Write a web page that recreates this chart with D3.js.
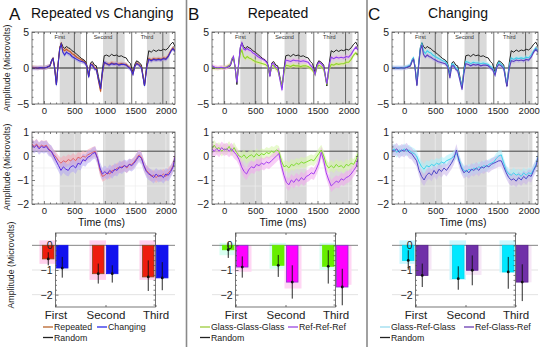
<!DOCTYPE html>
<html><head><meta charset="utf-8">
<script src="https://cdn.jsdelivr.net/npm/d3@7"></script>
<style>
body{margin:0;background:#fff}
svg{display:block;font-family:"Liberation Sans",Arial,sans-serif}
</style>
</head><body>
<svg id="c" width="550" height="347"></svg>
<script>
// ---------------- DATA ----------------
const panelLetters = ["A", "B", "C"];
const panelTitles = ["Repeated vs Changing", "Repeated", "Changing"];
const categories = ["First", "Second", "Third"];
const windowLabels = ["First", "Second", "Third"];
const analysisWindowsMs = [[260, 608], [970, 1325], [1690, 2060]];
const stimulusLinesMs = [0, 500, 700, 1200, 1440, 1950];
const timeTicks = [0, 500, 1000, 1500, 2000];
const topYTicks = [-5, 0, 5];
const midYTicks = [-2, -1, 0, 1];
const barYTicks = [-2, -1, 0];
const midGridValues = [-0.5, -1.25];
const midRandomLevel = 0.2;

// ERP waveforms (microvolts) at these times (ms)
const tTop = [-195,-150,-100,-50,0,50,100,125,150,175,205,235,260,285,310,340,370,400,430,460,500,540,580,620,660,690,710,735,765,795,830,860,895,930,960,990,1030,1070,1110,1150,1190,1230,1270,1310,1350,1385,1420,1460,1490,1520,1560,1600,1650,1690,1720,1760,1800,1840,1880,1920,1960,2000,2040,2080,2115,2150];
const randomTop = [0.0,0.05,-0.05,0.05,0.0,0.1,0.3,1.0,1.4,0.2,-2.3,0.8,2.8,3.5,3.0,2.7,3.0,2.8,2.7,2.4,2.2,1.9,1.6,1.3,1.1,0.8,0.2,-1.1,0.7,0.9,0.4,0.3,-1.2,-2.7,-0.2,1.7,1.8,1.6,1.9,1.7,1.8,1.6,1.7,1.5,1.4,0.9,0.6,-0.65,0.5,1.0,0.8,0.4,-2.5,0.8,2.4,2.2,2.5,2.3,2.5,2.4,2.6,2.5,2.8,3.3,3.6,3.0];
const changingTop = [0.0,0.0,0.0,0.05,0.0,0.1,0.3,1.0,1.3,0.0,-2.4,0.6,2.7,3.3,2.2,1.8,2.2,2.0,1.9,1.6,1.4,1.2,1.0,0.9,0.8,0.5,0.0,-1.3,0.5,0.4,-0.1,-0.2,-1.6,-2.9,-0.6,0.8,0.6,0.4,0.6,0.5,0.6,0.4,0.5,0.5,0.4,0.1,-0.1,-0.9,0.2,0.6,0.4,0.0,-2.5,0.2,1.2,1.0,1.2,1.1,1.2,1.1,1.3,1.2,1.6,2.3,2.7,2.3];
const repeatedTop = [0.1,0.05,0.0,0.05,0.0,0.1,0.3,0.9,1.3,0.1,-2.3,0.7,2.8,3.4,2.6,2.4,2.6,2.4,2.3,2.0,1.8,1.5,1.3,1.1,0.9,0.6,0.0,-1.2,0.5,0.5,0.0,-0.1,-1.8,-3.3,-0.8,0.7,0.6,0.5,0.7,0.6,0.6,0.5,0.6,0.5,0.5,0.2,0.0,-0.8,0.2,0.7,0.5,0.1,-2.4,0.3,1.3,1.1,1.3,1.2,1.3,1.2,1.4,1.3,1.7,2.4,2.8,2.4];
const refRefRefTop = [0.3,0.1,0.0,0.1,0.0,0.1,0.4,1.2,1.6,0.2,-2.0,0.8,2.9,3.5,2.7,2.5,2.7,2.5,2.4,2.1,1.9,1.6,1.4,1.2,1.0,0.7,0.1,-1.2,0.6,0.6,0.1,0.0,-1.6,-3.1,-0.4,1.1,1.0,0.9,1.1,1.0,1.0,0.9,1.0,0.9,0.8,0.4,0.1,-0.9,0.3,0.8,0.6,0.1,-2.2,0.5,1.5,1.3,1.5,1.4,1.5,1.4,1.6,1.5,1.9,2.5,2.9,2.5];
const glassGlassGlassTop = [0.0,0.0,-0.05,0.05,0.0,0.2,0.5,1.3,1.5,0.1,-1.8,0.5,2.0,2.5,1.6,1.3,1.6,1.4,1.3,1.1,0.9,0.8,0.7,0.6,0.5,0.3,-0.1,-1.1,0.4,0.3,-0.1,-0.3,-1.4,-2.6,-0.8,0.4,0.3,0.2,0.4,0.3,0.3,0.2,0.3,0.3,0.2,0.0,-0.3,-0.9,0.0,0.4,0.2,-0.2,-2.3,-0.1,0.5,0.4,0.6,0.5,0.6,0.6,0.8,0.8,1.2,1.8,2.1,1.8];
const refGlassRefTop = [0.0,0.0,0.0,0.0,0.0,0.1,0.3,0.9,1.2,0.0,-2.5,0.4,2.5,3.2,1.9,1.5,1.8,1.6,1.5,1.3,1.1,0.9,0.8,0.7,0.6,0.3,-0.2,-1.4,0.3,0.3,-0.2,-0.4,-1.7,-3.0,-0.8,0.6,0.5,0.3,0.5,0.4,0.5,0.3,0.4,0.4,0.3,0.0,-0.2,-1.0,0.1,0.5,0.3,-0.1,-2.6,0.0,1.0,0.9,1.1,1.0,1.1,1.0,1.2,1.1,1.5,2.2,2.6,2.2];
const glassRefGlassTop = [0.1,0.0,0.05,0.0,0.05,0.2,0.4,1.1,1.4,0.2,-2.2,0.7,2.8,3.4,2.4,2.0,2.4,2.2,2.1,1.8,1.6,1.4,1.2,1.0,0.9,0.6,0.1,-1.1,0.6,0.5,0.0,-0.1,-1.4,-2.7,-0.4,0.9,0.8,0.6,0.8,0.7,0.7,0.6,0.7,0.6,0.5,0.2,0.0,-0.8,0.3,0.8,0.5,0.1,-2.3,0.4,1.4,1.2,1.4,1.3,1.4,1.3,1.5,1.4,1.8,2.4,2.8,2.4];

// Difference waves (condition minus random)
const tMid = [-195,-160,-120,-80,-40,0,40,80,120,160,200,240,280,320,360,400,440,480,520,560,600,640,680,720,760,800,840,880,920,960,1000,1040,1080,1120,1160,1200,1240,1280,1320,1360,1400,1440,1480,1520,1560,1600,1640,1680,1720,1760,1800,1840,1880,1920,1960,2000,2040,2080,2120,2150];
const changingDiff = [0.45,0.35,0.45,0.3,0.4,0.35,0.4,0.25,0.2,0.0,-0.2,-0.4,-0.6,-0.45,-0.55,-0.6,-0.45,-0.4,-0.5,-0.3,-0.35,-0.15,-0.2,-0.05,0.0,0.1,0.15,-0.1,-0.5,-0.75,-0.65,-0.75,-0.6,-0.7,-0.55,-0.6,-0.45,-0.5,-0.4,-0.45,-0.35,-0.4,-0.3,-0.15,0.0,-0.1,-0.4,-0.65,-0.75,-0.8,-0.9,-0.75,-0.85,-0.8,-0.9,-0.75,-0.8,-0.65,-0.45,-0.05];
const repeatedDiff = [0.5,0.4,0.5,0.35,0.45,0.4,0.45,0.3,0.2,0.05,-0.05,-0.2,-0.3,-0.2,-0.25,-0.15,-0.2,-0.1,-0.2,-0.05,-0.1,0.0,-0.05,0.05,0.1,0.15,0.2,-0.1,-0.6,-0.85,-0.8,-0.7,-0.75,-0.6,-0.6,-0.5,-0.5,-0.45,-0.4,-0.5,-0.35,-0.35,-0.25,-0.1,0.05,-0.05,-0.4,-0.6,-0.7,-0.85,-0.8,-0.9,-0.8,-0.85,-0.75,-0.85,-0.7,-0.6,-0.4,0.0];
const refRefRefDiff = [0.3,0.2,0.3,0.2,0.35,0.25,0.3,0.2,0.3,0.15,0.05,-0.15,-0.45,-0.65,-0.75,-0.55,-0.45,-0.5,-0.35,-0.4,-0.3,-0.35,-0.25,-0.3,-0.2,-0.1,0.0,0.1,-0.4,-0.8,-1.1,-1.2,-1.0,-1.1,-0.95,-1.05,-0.9,-1.0,-0.85,-0.8,-0.7,-0.75,-0.55,-0.3,0.15,-0.2,-0.7,-1.0,-1.25,-1.15,-1.05,-1.1,-0.95,-1.0,-0.9,-0.85,-0.75,-0.6,-0.45,-0.1];
const glassGlassGlassDiff = [0.3,0.45,0.3,0.35,0.2,0.3,0.25,0.4,0.2,0.35,0.15,0.0,-0.05,0.05,-0.1,0.0,0.05,-0.05,0.1,0.0,0.1,0.05,0.15,0.1,0.2,0.15,0.25,0.2,-0.2,-0.45,-0.4,-0.5,-0.35,-0.4,-0.3,-0.35,-0.25,-0.3,-0.25,-0.2,-0.15,-0.2,-0.05,0.1,0.25,0.0,-0.35,-0.5,-0.4,-0.5,-0.35,-0.45,-0.4,-0.5,-0.35,-0.4,-0.3,-0.35,-0.15,0.1];
const refGlassRefDiff = [0.25,0.2,0.3,0.15,0.25,0.2,0.3,0.15,0.1,-0.05,-0.2,-0.6,-0.85,-1.0,-0.8,-0.7,-0.8,-0.6,-0.75,-0.55,-0.65,-0.5,-0.6,-0.45,-0.3,-0.1,0.25,-0.2,-0.5,-0.7,-0.6,-0.7,-0.55,-0.6,-0.5,-0.6,-0.45,-0.5,-0.4,-0.45,-0.35,-0.3,-0.25,-0.2,-0.2,-0.45,-0.7,-0.9,-1.0,-0.95,-1.05,-0.9,-1.0,-0.85,-0.95,-0.8,-0.85,-0.6,-0.4,-0.05];
const glassRefGlassDiff = [0.2,0.3,0.15,0.25,0.2,0.3,0.2,0.25,0.15,0.1,0.0,-0.25,-0.45,-0.55,-0.4,-0.45,-0.35,-0.4,-0.3,-0.35,-0.25,-0.3,-0.2,-0.15,-0.1,0.0,0.1,-0.1,-0.45,-0.6,-0.65,-0.55,-0.6,-0.5,-0.55,-0.45,-0.5,-0.4,-0.45,-0.35,-0.3,-0.25,-0.1,0.0,0.05,-0.3,-0.6,-0.75,-0.8,-0.7,-0.8,-0.75,-0.85,-0.7,-0.8,-0.7,-0.75,-0.55,-0.35,0.0];

// shaded error half-widths (microvolts) per series
const topBandHalf = [0.3, 0.3];
const midBandHalf = [0.22, 0.25];

// bar means and error limits (First, Second, Third)
const repeatedMean = [-0.55, -1.15, -1.28];
const repeatedErrHi = [-0.28, -0.74, -0.61];
const repeatedErrLo = [-0.81, -1.55, -1.85];
const repeatedShadeTop = [0.2, 0.2, 0.2];
const repeatedShadeBottom = [-0.75, -1.4, -1.4];
const changingMean = [-0.92, -1.15, -1.32];
const changingErrHi = [-0.47, -0.81, -0.68];
const changingErrLo = [-1.31, -1.51, -1.82];

const glassGlassGlassMean = [-0.18, -0.81, -0.85];
const glassGlassGlassErrHi = [0.12, -0.39, -0.2];
const glassGlassGlassErrLo = [-0.51, -1.28, -1.55];
const glassGlassGlassShadeTop = [0.1, 0.1, 0.1];
const glassGlassGlassShadeBottom = [-0.4, -0.95, -1.0];
const refRefRefMean = [-0.88, -1.49, -1.69];
const refRefRefErrHi = [-0.45, -0.81, -0.95];
const refRefRefErrLo = [-1.31, -2.16, -2.43];
const refRefRefShadeTop = [0.0, 0.0, 0.0];
const refRefRefShadeBottom = [-1.07, -1.75, -1.6];

const glassRefGlassMean = [-0.61, -1.35, -1.08];
const glassRefGlassErrHi = [-0.2, -0.85, -0.47];
const glassRefGlassErrLo = [-0.99, -1.8, -1.76];
const glassRefGlassShadeTop = [0.2, 0.2, 0.2];
const glassRefGlassShadeBottom = [-0.75, -1.4, -1.1];
const refGlassRefMean = [-1.22, -1.01, -1.49];
const refGlassRefErrHi = [-0.74, -0.41, -0.77];
const refGlassRefErrLo = [-1.69, -1.62, -2.26];
const refGlassRefShadeTop = [0.0, 0.0, 0.0];
const refGlassRefShadeBottom = [-1.0, -1.2, -1.5];

const legendA = ["Repeated", "Changing", "Random"];
const legendB = ["Glass-Glass-Glass", "Ref-Ref-Ref", "Random"];
const legendC = ["Glass-Ref-Glass", "Ref-Glass-Ref", "Random"];

// ---------------- LAYOUT / STYLE ----------------
const svg = d3.select("#c");
const timeDomain = [-195, 2150];
const panelX = [[32, 175], [212, 358], [392, 538]];
const topRange = [104, 32], midRange = [204, 132], barRange = [307, 233];
const styles = [
  { top: [["#c0582a", "#f3a27a"], ["#3a2bd0", "#9c94ee"]],
    mid: [["#e0606a", "#f5a5b5"], ["#5b2ee0", "#b2a6f2"]],
    bars: [{fill: "#ee1c0e", stroke: "#8b4a1a", shade: "#ffd0ec"}, {fill: "#1212ee", stroke: "#1212ee", shade: null}],
    legend: ["#b8632a", "#2a2ae8", "#222"], legendX: [43, 97] },
  { top: [["#8fd62a", "#e6ef8a"], ["#8a3ff0", "#f6a6f0"]],
    mid: [["#80dd30", "#d5f5a5"], ["#a43ef0", "#f3a5ef"]],
    bars: [{fill: "#66ee00", stroke: "#66ee00", shade: "#d8fff2"}, {fill: "#ff00ff", stroke: "#8833cc", shade: "#ffd6f4"}],
    legend: ["#9ccc3c", "#9a48e0", "#222"], legendX: [200, 288] },
  { top: [["#3fcbe8", "#a6eefa"], ["#5a3fc0", "#b8a8e8"]],
    mid: [["#3fd5ef", "#a8f0fb"], ["#4f47c8", "#c9b3ea"]],
    bars: [{fill: "#00e8ff", stroke: "#00d8f0", shade: "#cbf8ff"}, {fill: "#7030a8", stroke: "#5a2490", shade: "#f6e6f6"}],
    legend: ["#9adcee", "#6a3cb0", "#222"], legendX: [380, 464] }
];

const panels = [
  { top: [repeatedTop, changingTop], mid: [repeatedDiff, changingDiff],
    bars: [[repeatedMean, repeatedErrHi, repeatedErrLo, repeatedShadeTop, repeatedShadeBottom],
           [changingMean, changingErrHi, changingErrLo, null, null]], legend: legendA },
  { top: [glassGlassGlassTop, refRefRefTop], mid: [glassGlassGlassDiff, refRefRefDiff],
    bars: [[glassGlassGlassMean, glassGlassGlassErrHi, glassGlassGlassErrLo, glassGlassGlassShadeTop, glassGlassGlassShadeBottom],
           [refRefRefMean, refRefRefErrHi, refRefRefErrLo, refRefRefShadeTop, refRefRefShadeBottom]], legend: legendB },
  { top: [glassRefGlassTop, refGlassRefTop], mid: [glassRefGlassDiff, refGlassRefDiff],
    bars: [[glassRefGlassMean, glassRefGlassErrHi, glassRefGlassErrLo, glassRefGlassShadeTop, glassRefGlassShadeBottom],
           [refGlassRefMean, refGlassRefErrHi, refGlassRefErrLo, refGlassRefShadeTop, refGlassRefShadeBottom]], legend: legendC }
];

let clipN = 0;
const defs = svg.append("defs");
function clipFor(x0, x1, y0, y1) {
  const id = "clip" + (clipN++);
  defs.append("clipPath").attr("id", id).append("rect")
    .attr("x", x0).attr("y", y1).attr("width", x1 - x0).attr("height", y0 - y1);
  return `url(#${id})`;
}
function range(a, b, s) { const r = []; for (let v = a; v <= b + 1e-9; v += s) r.push(+v.toFixed(4)); return r; }

function styleAxis(sel, fs) {
  sel.select(".domain").remove();
  sel.selectAll(".tick line").attr("stroke", "#444").attr("stroke-width", 0.7);
  sel.selectAll(".tick text").attr("font-size", fs).attr("fill", "#222").attr("font-family", '"Liberation Sans",Arial,sans-serif');
}

function frameAxes(g, x, y, xMajor, xMinor, yMajor, yMinor, xLabelSize, showX) {
  const [x0, x1] = x.range();
  const [yb, yt] = y.range();
  const fmt = d3.format("d");
  g.append("g").attr("transform", `translate(${x0},0)`)
    .call(d3.axisLeft(y).tickValues(yMajor).tickSizeInner(-3).tickSizeOuter(0).tickPadding(3).tickFormat(fmt))
    .call(s => styleAxis(s, 10.5));
  g.append("g").attr("transform", `translate(${x0},0)`)
    .call(d3.axisLeft(y).tickValues(yMinor).tickSizeInner(-1.5).tickSizeOuter(0).tickFormat(""))
    .call(s => styleAxis(s, 0));
  g.append("g").attr("transform", `translate(${x1},0)`)
    .call(d3.axisRight(y).tickValues(yMajor.concat(yMinor)).tickSizeInner(-2).tickSizeOuter(0).tickFormat(""))
    .call(s => styleAxis(s, 0));
  if (xMajor) {
    g.append("g").attr("transform", `translate(0,${yb})`)
      .call(d3.axisBottom(x).tickValues(xMajor).tickSizeInner(-3).tickSizeOuter(0).tickPadding(3).tickFormat(showX ? fmt : ""))
      .call(s => styleAxis(s, xLabelSize));
    g.append("g").attr("transform", `translate(0,${yb})`)
      .call(d3.axisBottom(x).tickValues(xMinor).tickSizeInner(-1.5).tickSizeOuter(0).tickFormat(""))
      .call(s => styleAxis(s, 0));
    g.append("g").attr("transform", `translate(0,${yt})`)
      .call(d3.axisTop(x).tickValues(xMajor.concat(xMinor)).tickSizeInner(-2).tickSizeOuter(0).tickFormat(""))
      .call(s => styleAxis(s, 0));
  }
  g.append("rect").attr("x", x0).attr("y", yt).attr("width", x1 - x0).attr("height", yb - yt)
    .attr("fill", "none").attr("stroke", "#555").attr("stroke-width", 0.8);
}

function drawTimePlot(g, xr, yr, yDomain, times, randomSeries, seriesList, st, bandHalf, kind) {
  const x = d3.scaleLinear().domain(timeDomain).range(xr);
  const y = d3.scaleLinear().domain(yDomain).range(yr);
  const pg = g.append("g").attr("clip-path", clipFor(xr[0], xr[1], yr[0], yr[1]));
  pg.selectAll("rect.win").data(analysisWindowsMs).join("rect")
    .attr("x", d => x(d[0])).attr("width", d => x(d[1]) - x(d[0]))
    .attr("y", yr[1]).attr("height", yr[0] - yr[1]).attr("fill", "#d9d9d9");
  if (kind === "top") {
    pg.selectAll("line.stim").data(stimulusLinesMs).join("line")
      .attr("x1", d => x(d)).attr("x2", d => x(d)).attr("y1", yr[1]).attr("y2", yr[0])
      .attr("stroke", "#333").attr("stroke-width", 0.7);
    pg.append("line").attr("x1", xr[0]).attr("x2", xr[1]).attr("y1", y(0)).attr("y2", y(0))
      .attr("stroke", "#111").attr("stroke-width", 0.9);
    g.selectAll("text.wl").data(windowLabels).join("text")
      .attr("x", (d, i) => x(analysisWindowsMs[i][0])).attr("y", yr[1] + 6.5)
      .attr("text-anchor", "middle").attr("font-size", 5.5).attr("fill", "#333").text(d => d);
  } else {
    pg.selectAll("line.vg").data(timeTicks).join("line")
      .attr("x1", d => x(d)).attr("x2", d => x(d)).attr("y1", yr[1]).attr("y2", yr[0])
      .attr("stroke", "#efefef").attr("stroke-width", 0.7);
    pg.selectAll("line.hg").data(midGridValues).join("line")
      .attr("x1", xr[0]).attr("x2", xr[1]).attr("y1", d => y(d)).attr("y2", d => y(d))
      .attr("stroke", "#ececec").attr("stroke-width", 0.7);
    pg.append("line").attr("x1", xr[0]).attr("x2", xr[1]).attr("y1", y(midRandomLevel)).attr("y2", y(midRandomLevel))
      .attr("stroke", "#222").attr("stroke-width", 0.8);
  }
  const area = (vals, h) => d3.area().x((d, i) => x(times[i])).y0((d) => y(d - h)).y1(d => y(d + h))(vals);
  const line = d3.line().x((d, i) => x(times[i])).y(d => y(d));
  seriesList.forEach((vals, k) => {
    pg.append("path").attr("d", area(vals, bandHalf[k])).attr("fill", st[k][1]).attr("opacity", kind === "top" ? 0.5 : 0.55);
  });
  if (randomSeries) {
    pg.append("path").attr("d", line(randomSeries)).attr("fill", "none").attr("stroke", "#222").attr("stroke-width", 1);
  }
  seriesList.forEach((vals, k) => {
    pg.append("path").attr("d", line(vals)).attr("fill", "none").attr("stroke", st[k][0]).attr("stroke-width", kind === "top" ? 1.1 : 1);
  });
  const yMajor = kind === "top" ? topYTicks : midYTicks;
  const yMinor = kind === "top" ? range(-5, 5, 1).filter(v => !yMajor.includes(v)) : range(-2, 1, 0.2).filter(v => !yMajor.some(m => Math.abs(m - v) < 1e-6));
  frameAxes(g, x, y, timeTicks, range(-100, 2100, 100).filter(v => v % 500 !== 0), yMajor, yMinor, 9.5, true);
}

function drawBars(g, xr, yr, panel, st) {
  const xc = d3.scalePoint().domain(categories).range([xr[0] + 23.5, xr[0] + 123.5]);
  const y = d3.scaleLinear().domain([-2.5, 0.5]).range(yr);
  const pg = g.append("g").attr("clip-path", clipFor(xr[0], xr[1], yr[0], yr[1]));
  pg.selectAll("line.g").data([-1, -2]).join("line")
    .attr("x1", xr[0]).attr("x2", xr[1]).attr("y1", d => y(d)).attr("y2", d => y(d))
    .attr("stroke", "#dcdcdc").attr("stroke-width", 0.8);
  const offs = [[-13, -1.5, -16, 0.5], [1, 12.5, -1, 16]];
  panel.bars.forEach((b, k) => {
    const [mean, hi, lo, sTop, sBot] = b;
    if (sTop && st.bars[k].shade) {
      pg.selectAll(null).data(categories).join("rect")
        .attr("x", d => xc(d) + offs[k][2]).attr("width", offs[k][3] - offs[k][2])
        .attr("y", (d, i) => y(sTop[i])).attr("height", (d, i) => y(sBot[i]) - y(sTop[i]))
        .attr("fill", st.bars[k].shade);
    }
  });
  pg.append("line").attr("x1", xr[0]).attr("x2", xr[1]).attr("y1", y(0)).attr("y2", y(0))
    .attr("stroke", "#777").attr("stroke-width", 0.9);
  panel.bars.forEach((b, k) => {
    const [mean, hi, lo] = b;
    pg.selectAll(null).data(categories).join("rect")
      .attr("x", d => xc(d) + offs[k][0]).attr("width", offs[k][1] - offs[k][0])
      .attr("y", y(0)).attr("height", (d, i) => y(mean[i]) - y(0))
      .attr("fill", st.bars[k].fill).attr("stroke", st.bars[k].stroke).attr("stroke-width", 0.8);
    const cx = d => xc(d) + (offs[k][0] + offs[k][1]) / 2;
    pg.selectAll(null).data(categories).join("line")
      .attr("x1", cx).attr("x2", cx).attr("y1", (d, i) => y(hi[i])).attr("y2", (d, i) => y(lo[i]))
      .attr("stroke", "#111").attr("stroke-width", 0.9);
    pg.selectAll(null).data(categories).join("circle")
      .attr("cx", cx).attr("cy", (d, i) => y(mean[i])).attr("r", 1.4).attr("fill", "#111");
  });
  frameAxes(g, xc, y, null, null, barYTicks, range(-2.4, 0.4, 0.2).filter(v => !barYTicks.some(m => Math.abs(m - v) < 1e-6)), 0, false);
  g.append("g").attr("transform", `translate(0,${yr[0]})`)
    .call(d3.axisBottom(xc).tickSizeInner(-2).tickSizeOuter(0).tickPadding(4))
    .call(s => styleAxis(s, 11.5));
  g.append("g").attr("transform", `translate(0,${yr[1]})`)
    .call(d3.axisTop(xc).tickSizeInner(-2).tickSizeOuter(0).tickFormat(""))
    .call(s => styleAxis(s, 0));
}

// separators
svg.selectAll("line.sep").data([186.5, 367]).join("line")
  .attr("x1", d => d).attr("x2", d => d).attr("y1", 0).attr("y2", 347)
  .attr("stroke", "#8a8a8a").attr("stroke-width", 1.6);

panels.forEach((p, i) => {
  const g = svg.append("g");
  const xr = panelX[i];
  const st = styles[i];
  // letter & title
  g.append("text").attr("x", [9, 188, 368][i]).attr("y", 20).attr("font-size", 17).attr("fill", "#111").text(panelLetters[i]);
  if (i === 0) {
    g.append("text").attr("x", 31).attr("y", 18).attr("font-size", 14).attr("fill", "#111").text(panelTitles[i]);
  } else {
    g.append("text").attr("x", (xr[0] + xr[1]) / 2 - 7).attr("y", 18).attr("text-anchor", "middle").attr("font-size", 14).attr("fill", "#111").text(panelTitles[i]);
  }
  drawTimePlot(g, xr, topRange, [-5, 5], tTop, randomTop, p.top, st.top, topBandHalf, "top");
  drawTimePlot(g, xr, midRange, [-2, 1], tMid, null, p.mid, st.mid, midBandHalf, "mid");
  g.append("text").attr("x", (xr[0] + xr[1]) / 2 - 2).attr("y", 226).attr("text-anchor", "middle")
    .attr("font-size", 10.5).attr("fill", "#111").text("Time (ms)");
  drawBars(g, xr, barRange, p, st);
  // legend
  const lx = st.legendX;
  const items = [[lx[0], 327], [lx[1], 327], [lx[0], 337.5]];
  p.legend.forEach((name, k) => {
    const [x0, yy] = items[k];
    g.append("line").attr("x1", x0).attr("x2", x0 + 10).attr("y1", yy).attr("y2", yy)
      .attr("stroke", st.legend[k]).attr("stroke-width", 1.3);
    g.append("text").attr("x", x0 + 11).attr("y", yy + 3).attr("font-size", 8.8).attr("fill", "#222").text(name);
  });
});

// y axis titles (panel A only)
[[9.5, 68], [9.5, 167], [14, 265]].forEach(([x, y]) => {
  svg.append("text").attr("transform", `translate(${x},${y}) rotate(-90)`).attr("text-anchor", "middle")
    .attr("font-size", 8.8).attr("fill", "#222").text("Amplitude (Microvolts)");
});
</script>
</body></html>
